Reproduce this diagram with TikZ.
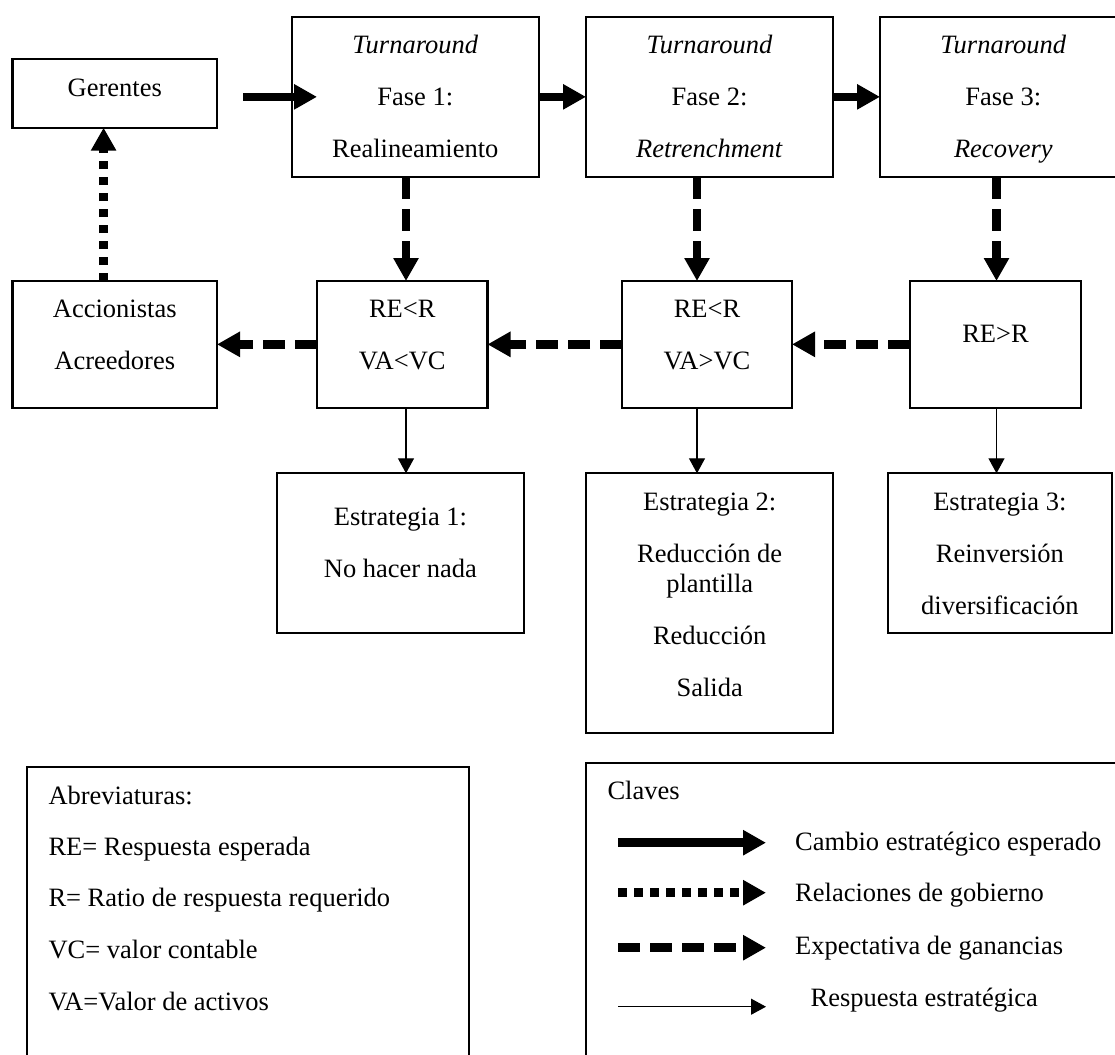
\documentclass[tikz,border=0pt]{standalone}
\usepackage{fontspec}
\setmainfont{Liberation Serif}
\usetikzlibrary{arrows.meta,calc}

\begin{document}
\begin{tikzpicture}[x=1pt,y=-1pt,
  box/.style={draw, line width=2.1pt, inner sep=0pt, outer sep=0pt},
  lbl/.style={align=center, inner sep=0pt, font=\fontsize{26.5}{52}\selectfont},
  note/.style={anchor=base west, inner sep=0pt, font=\fontsize{26.5}{32}\selectfont},
  bighead/.style={-{Triangle[length=23pt,width=24pt]}},
  change/.style={line width=8.5pt, bighead},
  govern/.style={line width=8.5pt, dash pattern=on 8.5pt off 7.5pt, bighead},
  gain/.style={line width=8.5pt, dash pattern=on 22pt off 10pt, bighead},
  reply/.style={line width=1.2pt, -{Triangle[length=15pt,width=16pt]}}
]
% canvas
\fill[white] (0,0) rectangle (1115,1054);
\useasboundingbox (0,0) rectangle (1115,1054);

% columns of the vertical connectors
\coordinate (cd) at (103.6,0);
\coordinate (c1) at (406,0);
\coordinate (c2) at (697,0);
\coordinate (c3) at (996.5,0);

% top row
\node[box, minimum width=204.5pt, minimum height=68.4pt] (ger) at (114.75,93.5) {};
\node[lbl] (gerT) at (114.75,87.5) {Gerentes};
\node[box, minimum width=246.6pt, minimum height=160.3pt] (f1) at (415.3,96.85) {};
\node[lbl] (f1T) at (415.3,96) {\textit{Turnaround}\\Fase 1:\\Realineamiento};
\node[box, minimum width=247pt, minimum height=160.3pt] (f2) at (709.5,96.85) {};
\node[lbl] (f2T) at (709.5,96) {\textit{Turnaround}\\Fase 2:\\\textit{Retrenchment}};
\node[box, minimum width=246.6pt, minimum height=160.3pt] (f3) at (1003.3,96.85) {};
\node[lbl] (f3T) at (1003.3,99) {\textit{Turnaround}\\Fase 3:\\\textit{Recovery}};

% middle row
\node[box, minimum width=204.5pt, minimum height=126.7pt] (acc) at (114.75,344.35) {};
\node[lbl] (accT) at (114.75,335) {Accionistas\\Acreedores};
\node[box, minimum width=170.5pt, minimum height=126.7pt] (r1) at (402.25,344.35) {};
\node[lbl] (r1T) at (402.25,335) {RE<R\\VA<VC};
\node[box, minimum width=170pt, minimum height=126.7pt] (r2) at (707,344.35) {};
\node[lbl] (r2T) at (707,335) {RE<R\\VA>VC};
\node[box, minimum width=171pt, minimum height=126.7pt] (r3) at (995.5,344.35) {};
\node[lbl] (r3T) at (995.5,334) {RE>R};

% strategies
\node[box, minimum width=247.2pt, minimum height=160pt] (e1) at (400.4,553.3) {};
\node[lbl] (e1T) at (400.4,543) {Estrategia 1:\\No hacer nada};
\node[box, minimum width=246.6pt, minimum height=260pt] (e2) at (709.7,603.3) {};
\node[lbl] (e2T) at (709.7,595) {Estrategia 2:\\Reducción de\\[-22pt]plantilla\\Reducción\\Salida};
\node[box, minimum width=223.7pt, minimum height=160pt] (e3) at (999.85,553.3) {};
\node[lbl] (e3T) at (999.85,554) {Estrategia 3:\\Reinversión\\diversificación};

% connectors
\draw[change, shorten <=26pt, shorten >=-25pt] (ger.east |- f1.west) -- (f1.west);
\draw[change] (f1.east) -- (f2.west);
\draw[change] (f2.east) -- (f3.west);
\draw[gain] (f1.south -| c1) -- (r1.north -| c1);
\draw[gain] (f2.south -| c2) -- (r2.north -| c2);
\draw[gain] (f3.south -| c3) -- (r3.north -| c3);
\draw[gain] (r3.west) -- (r2.east);
\draw[gain] (r2.west) -- (r1.east);
\draw[gain] (r1.west) -- (acc.east);
\draw[govern] (acc.north -| cd) -- (ger.south -| cd);
\draw[reply] (r1.south -| c1) -- (e1.north -| c1);
\draw[reply] (r2.south -| c2) -- (e2.north -| c2);
\draw[reply] (r3.south -| c3) -- (e3.north -| c3);

% abbreviations panel (runs past the lower edge)
\node[box, anchor=north west, minimum width=442.6pt, minimum height=320pt] (abr) at (26.7,766.7) {};
\node[note] (abr0) at (48.3,804) {Abreviaturas:};
\node[note] (abr1) at (48.3,855) {RE= Respuesta esperada};
\node[note] (abr2) at (48.3,906.7) {R= Ratio de respuesta requerido};
\node[note] (abr3) at (48.3,958.3) {VC= valor contable};
\node[note] (abr4) at (48.3,1010) {VA=Valor de activos};

% key panel (runs past the right and lower edges)
\node[box, anchor=north west, minimum width=560pt, minimum height=320pt] (key) at (586,762.7) {};
\node[note] (key0) at (607.3,799.3) {Claves};
\coordinate (k1a) at (618,842.7);  \coordinate (k1b) at (766,842.7);
\coordinate (k2a) at (618,892.7);  \coordinate (k2b) at (766,892.7);
\coordinate (k3a) at (618,947.7);  \coordinate (k3b) at (766,947.7);
\coordinate (k4a) at (618,1006.7); \coordinate (k4b) at (766,1006.7);
\draw[change] (k1a) -- (k1b);
\draw[govern] (k2a) -- (k2b);
\draw[gain] (k3a) -- (k3b);
\draw[reply] (k4a) -- (k4b);
\node[note] (key1) at (795,850) {Cambio estratégico esperado};
\node[note] (key2) at (795,901.7) {Relaciones de gobierno};
\node[note] (key3) at (795,954) {Expectativa de ganancias};
\node[note] (key4) at (810.4,1006.7) {Respuesta estratégica};
\end{tikzpicture}
\end{document}
